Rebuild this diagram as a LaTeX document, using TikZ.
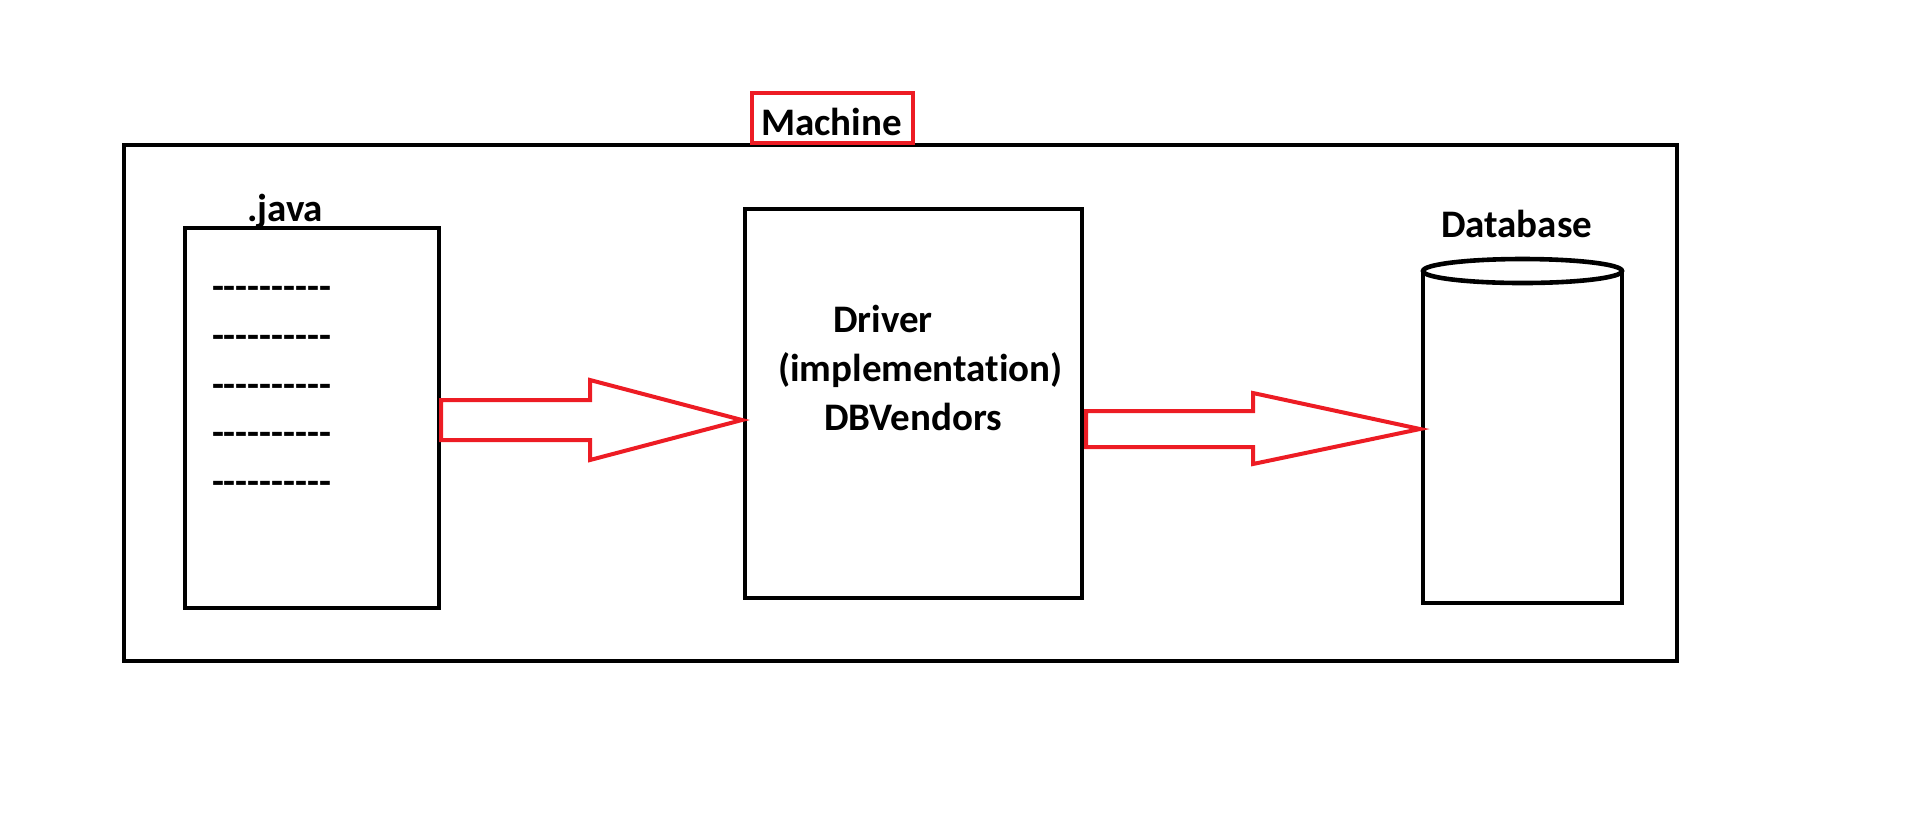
\documentclass[tikz,border=0pt]{standalone}
\usepackage{fontspec}
\setmainfont{Carlito}[Ligatures={NoCommon}]
\usetikzlibrary{calc}
\definecolor{pred}{RGB}{237,28,36}
\newcommand\hyphenrow{-\kern0pt-\kern0pt-\kern0pt-\kern0pt-\kern0pt-\kern0pt-\kern0pt-\kern0pt-\kern0pt-}
\begin{document}
\begin{tikzpicture}[x=0.5pt,y=-0.5pt,
  box/.style={draw=black, line width=2.3pt, inner sep=0pt, outer sep=0pt, anchor=north west},
  redbox/.style={draw=pred, line width=2pt, inner sep=0pt, outer sep=0pt, anchor=north west},
  lbl/.style={inner sep=0pt, outer sep=0pt, anchor=base west, font=\fontsize{19.5}{23}\selectfont\bfseries},
  blockarrow/.style={draw=pred, line width=2pt, line join=miter}]
\useasboundingbox (0,0) rectangle (1906,827);
% outer machine box
\node[box, minimum width=776.5pt, minimum height=258pt] (machine) at (124,145) {};
% machine label box
\node[redbox, fill=white, minimum width=80.5pt, minimum height=25pt] (mlabel) at (752,93) {};
\node[lbl] (mtext) at (761,135) {Machine};
% .java file
\node[box, minimum width=127pt, minimum height=190pt] (java) at (185,228) {};
\node[lbl] (jtext) at (247,221) {.java};
\node[lbl] (d1) at (212,299) {\hyphenrow};
\node[lbl] (d2) at (212,348) {\hyphenrow};
\node[lbl] (d3) at (212,397) {\hyphenrow};
\node[lbl] (d4) at (212,445) {\hyphenrow};
\node[lbl] (d5) at (212,494) {\hyphenrow};
% driver box
\node[box, minimum width=168.5pt, minimum height=194.5pt] (driver) at (745,209) {};
\node[lbl] (t1) at (833,332) {Driver};
\node[lbl] (t2) at (778,381) {(implementation)};
\node[lbl] (t3) at (824,430) {DBVendors};
% database cylinder
\node[inner sep=0pt, outer sep=0pt, anchor=north west, minimum width=99.5pt, minimum height=166pt] (db) at (1423,271) {};
\draw[line width=2.3pt] (db.north west) -- (db.south west) -- (db.south east) -- (db.north east);
\draw[line width=2.3pt] (db.north) ellipse [x radius=49.75pt, y radius=6pt];
\node[lbl] (dbtext) at (1441,237) {Database};
% block arrows
\draw[blockarrow] (441,400) -- (590,400) -- (590,380) -- (742,420) -- (590,460) -- (590,440) -- (441,440) -- cycle;
\draw[blockarrow] (1086,411) -- (1253,411) -- (1253,393) -- (1420,429) -- (1253,464) -- (1253,447) -- (1086,447) -- cycle;
\end{tikzpicture}
\end{document}
